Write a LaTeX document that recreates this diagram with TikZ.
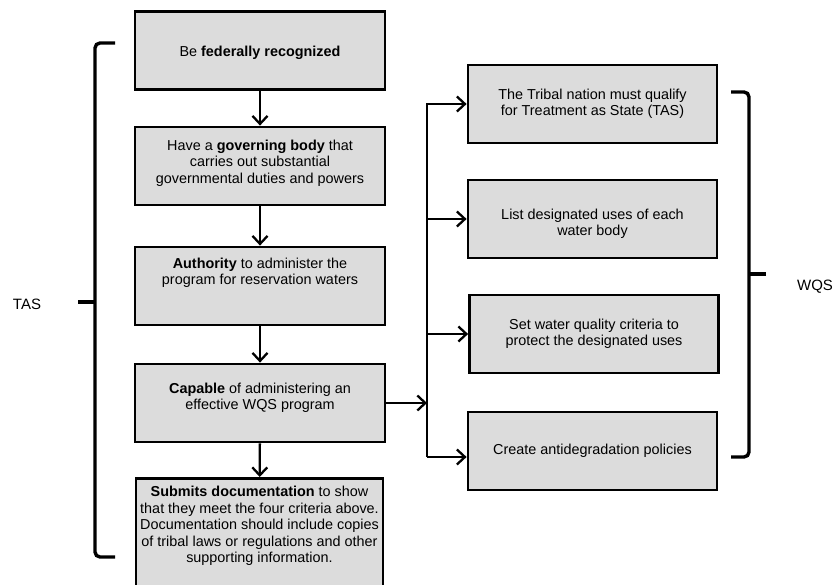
\documentclass[tikz,border=0pt]{standalone}
\usepackage{fontspec}
\setmainfont{Liberation Sans}
\usepackage{xcolor}
\usetikzlibrary{positioning, arrows.meta}
\definecolor{boxgray}{RGB}{220,220,220}

\begin{document}
\begin{tikzpicture}[x=1pt, y=-1pt,
    box/.style={draw, line width=2.8pt, fill=boxgray, minimum width=250pt,
        minimum height=78pt, align=center, inner sep=4pt,
        font=\fontsize{14.4}{16.5}\selectfont},
    flow/.style={line width=2.3pt,
        -{Straight Barb[length=8pt, width=15pt, line width=2.3pt]}},
    brace/.style={line width=3.4pt, rounded corners=5pt},
    side/.style={font=\fontsize{15}{18}\selectfont}]
  \useasboundingbox (0,0) rectangle (835,585);
  % left column
  \node[box] (fed) at (260,50.5) {\rule{0pt}{15pt}Be \textbf{federally recognized}};
  \node[box] (gov) at (260,166) {Have a \textbf{governing body} that\\carries out substantial\\governmental duties and powers\rule[-9pt]{0pt}{0pt}};
  \node[box] (auth) at (260,286) {\textbf{Authority} to administer the\\program for reservation waters\rule[-29pt]{0pt}{0pt}};
  \node[box] (cap) at (260,403) {\textbf{Capable} of administering an\\effective WQS program\rule[-13pt]{0pt}{0pt}};
  \node[box, anchor=north, inner ysep=8pt, minimum width=247pt] (docs) at (259.5,477) {\textbf{Submits documentation} to show\\that they meet the four criteria above.\\Documentation should include copies\\of tribal laws or regulations and other\\supporting information.\rule[-30pt]{0pt}{0pt}};
  % right column
  \node[box, minimum width=249pt] (tas1) at (592.5,104) {The Tribal nation must qualify\\for Treatment as State (TAS)};
  \node[box, minimum width=249pt] (uses) at (592.5,219) {\rule{0pt}{20pt}List designated uses of each\\water body};
  \node[box, minimum width=249pt] (crit) at (594,334) {Set water quality criteria to\\protect the designated uses};
  \node[box, minimum width=249pt] (anti) at (592.5,451) {Create antidegradation policies};
  % arrows
  \draw[flow] (fed) -- (gov);
  \draw[flow] (gov) -- (auth);
  \draw[flow] (auth) -- (cap);
  \draw[flow] (cap) -- (docs);
  \coordinate (ttop) at (427,104);
  \coordinate (tbot) at (427,457);
  \draw[flow] (cap.east) -- (cap.east -| ttop);
  \draw[flow] (tbot) -- (ttop) -- (tas1.west);
  \draw[flow] (ttop |- uses.west) -- (uses.west);
  \draw[flow] (ttop |- crit.west) -- (crit.west);
  \draw[flow] (tbot) -- (tbot -| anti.west);
  % braces
  \coordinate (l1) at (115,43);
  \coordinate (l2) at (95,43);
  \coordinate (l3) at (95,557);
  \coordinate (l4) at (115,557);
  \coordinate (l5) at (78,302);
  \draw[brace] (l1) -- (l2) -- (l3) -- (l4);
  \draw[brace] (l5) -- (l5 -| l2);
  \coordinate (r1) at (731,92);
  \coordinate (r2) at (749,92);
  \coordinate (r3) at (749,457);
  \coordinate (r4) at (731,457);
  \coordinate (r5) at (766,274);
  \draw[brace] (r1) -- (r2) -- (r3) -- (r4);
  \draw[brace] (r5) -- (r5 -| r2);
  \node[side] (tas) at (27,304) {TAS};
  \node[side] (wqs) at (815,287) {WQS};
\end{tikzpicture}
\end{document}
